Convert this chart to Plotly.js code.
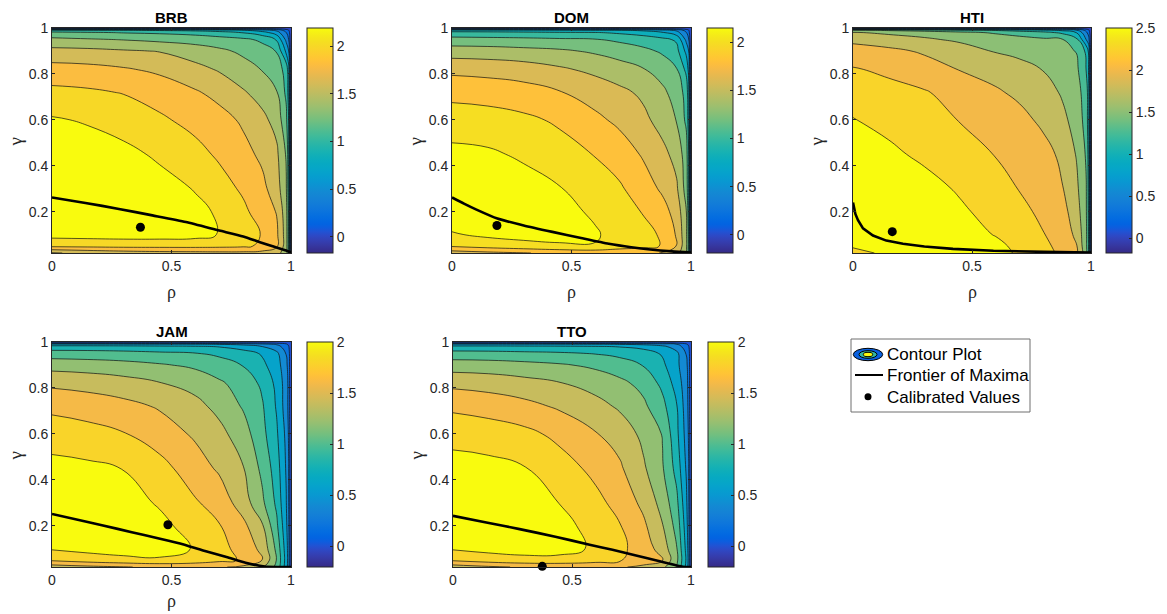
<!DOCTYPE html>
<html><head><meta charset="utf-8">
<script src="https://cdn.plot.ly/plotly-3.0.1.min.js"></script>
<style>html,body{margin:0;padding:0;background:#fff}</style>
</head><body><div id="chart" style="width:1167px;height:614px"></div>
<script>
// ---------- DATA ----------
const RHO = [0, 0.15, 0.3, 0.45, 0.6, 0.7, 0.8, 0.88, 0.94, 0.98, 0.99, 1];
const GAMMA = [0.02, 0.05, 0.1, 0.2, 0.3, 0.45, 0.6, 0.72, 0.82, 0.9, 0.95, 0.98, 0.99, 1];

const Z_BRB = [
  [1.38, 1.45, 1.50, 1.53, 1.54, 1.55, 1.55, 1.53, 1.47, 1.30, 1.00, -0.17],
  [1.84, 1.85, 1.86, 1.86, 1.86, 1.85, 1.83, 1.77, 1.63, 1.30, 0.95, -0.17],
  [2.07, 2.08, 2.09, 2.09, 2.07, 1.99, 1.88, 1.79, 1.64, 1.30, 0.95, -0.17],
  [2.19, 2.18, 2.15, 2.10, 2.04, 1.98, 1.84, 1.71, 1.59, 1.28, 0.95, -0.17],
  [2.17, 2.16, 2.13, 2.07, 1.99, 1.88, 1.77, 1.65, 1.50, 1.22, 0.90, -0.17],
  [2.12, 2.10, 2.05, 1.97, 1.86, 1.77, 1.66, 1.56, 1.44, 1.18, 0.88, -0.17],
  [2.02, 1.98, 1.92, 1.83, 1.74, 1.67, 1.57, 1.45, 1.33, 1.05, 0.80, -0.17],
  [1.85, 1.83, 1.79, 1.72, 1.62, 1.54, 1.42, 1.32, 1.21, 0.96, 0.72, -0.17],
  [1.68, 1.66, 1.62, 1.56, 1.46, 1.38, 1.28, 1.19, 1.10, 0.93, 0.68, -0.17],
  [1.46, 1.45, 1.42, 1.39, 1.30, 1.24, 1.16, 1.08, 0.99, 0.55, 0.40, -0.17],
  [1.25, 1.22, 1.19, 1.15, 1.12, 1.08, 1.04, 0.96, 0.78, 0.35, 0.20, -0.17],
  [1.05, 1.02, 0.99, 0.97, 0.93, 0.88, 0.79, 0.68, 0.50, 0.20, 0.10, -0.17],
  [0.85, 0.83, 0.81, 0.78, 0.75, 0.70, 0.62, 0.50, 0.35, 0.10, 0.01, -0.17],
  [-0.17, -0.17, -0.17, -0.17, -0.17, -0.17, -0.17, -0.17, -0.17, -0.17, -0.17, -0.17]
];
const Z_DOM = [
  [1.50, 1.55, 1.59, 1.64, 1.66, 1.66, 1.65, 1.59, 1.48, 1.22, 0.92, -0.19],
  [1.82, 1.88, 1.93, 1.97, 1.99, 1.90, 1.85, 1.79, 1.59, 1.25, 0.95, -0.19],
  [1.98, 2.04, 2.07, 2.07, 2.02, 1.93, 1.85, 1.78, 1.58, 1.25, 0.95, -0.19],
  [2.14, 2.15, 2.12, 2.06, 1.97, 1.88, 1.79, 1.67, 1.53, 1.21, 0.90, -0.19],
  [2.13, 2.12, 2.08, 2.01, 1.91, 1.83, 1.69, 1.57, 1.43, 1.12, 0.85, -0.19],
  [2.05, 2.03, 1.97, 1.88, 1.79, 1.70, 1.58, 1.46, 1.33, 1.10, 0.82, -0.19],
  [1.90, 1.88, 1.84, 1.77, 1.64, 1.56, 1.45, 1.32, 1.19, 0.96, 0.72, -0.19],
  [1.74, 1.72, 1.68, 1.61, 1.52, 1.45, 1.36, 1.24, 1.12, 0.93, 0.68, -0.19],
  [1.55, 1.53, 1.50, 1.43, 1.35, 1.28, 1.21, 1.12, 1.01, 0.75, 0.55, -0.19],
  [1.30, 1.29, 1.26, 1.23, 1.17, 1.12, 1.05, 0.97, 0.86, 0.55, 0.40, -0.19],
  [1.07, 1.06, 1.05, 1.03, 1.01, 0.96, 0.90, 0.85, 0.77, 0.35, 0.22, -0.19],
  [0.87, 0.86, 0.84, 0.82, 0.81, 0.77, 0.72, 0.62, 0.48, 0.21, 0.08, -0.19],
  [0.68, 0.67, 0.66, 0.64, 0.62, 0.61, 0.56, 0.48, 0.36, 0.12, 0.02, -0.19],
  [-0.19, -0.19, -0.19, -0.19, -0.19, -0.19, -0.19, -0.19, -0.19, -0.19, -0.19, -0.19]
];
const Z_HTI = [
  [2.10, 2.35, 2.42, 2.40, 2.32, 2.22, 2.08, 1.95, 1.80, 1.35, 0.98, -0.175],
  [2.30, 2.43, 2.46, 2.40, 2.30, 2.20, 2.06, 1.92, 1.76, 1.30, 0.98, -0.175],
  [2.49, 2.48, 2.42, 2.34, 2.24, 2.14, 2.01, 1.88, 1.70, 1.30, 0.97, -0.175],
  [2.495, 2.45, 2.37, 2.29, 2.16, 2.06, 1.95, 1.83, 1.62, 1.27, 0.95, -0.175],
  [2.45, 2.42, 2.34, 2.22, 2.10, 1.99, 1.88, 1.76, 1.55, 1.26, 0.93, -0.175],
  [2.40, 2.30, 2.20, 2.10, 1.99, 1.92, 1.83, 1.70, 1.48, 1.22, 0.90, -0.175],
  [2.26, 2.18, 2.10, 1.99, 1.90, 1.82, 1.70, 1.56, 1.40, 1.15, 0.85, -0.175],
  [2.14, 2.08, 2.02, 1.90, 1.78, 1.70, 1.61, 1.47, 1.33, 1.15, 0.85, -0.175],
  [2.02, 1.95, 1.85, 1.74, 1.66, 1.59, 1.49, 1.41, 1.30, 0.99, 0.74, -0.175],
  [1.85, 1.80, 1.72, 1.63, 1.48, 1.43, 1.37, 1.30, 1.24, 0.95, 0.70, -0.175],
  [1.69, 1.63, 1.54, 1.45, 1.39, 1.34, 1.29, 1.26, 1.05, 0.49, 0.35, -0.175],
  [1.52, 1.45, 1.40, 1.31, 1.22, 1.15, 1.07, 0.95, 0.74, 0.30, 0.15, -0.175],
  [1.30, 1.22, 1.15, 1.06, 0.98, 0.90, 0.82, 0.70, 0.52, 0.18, 0.05, -0.175],
  [-0.175, -0.175, -0.175, -0.175, -0.175, -0.175, -0.175, -0.175, -0.175, -0.175, -0.175, -0.175]
];
const Z_JAM = [
  [1.30, 1.35, 1.39, 1.43, 1.44, 1.42, 1.36, 1.22, 0.95, 0.50, 0.30, -0.20],
  [1.63, 1.70, 1.75, 1.78, 1.72, 1.65, 1.58, 1.41, 0.99, 0.52, 0.30, -0.20],
  [1.82, 1.86, 1.88, 1.86, 1.79, 1.67, 1.52, 1.35, 0.95, 0.50, 0.30, -0.20],
  [2.00, 1.96, 1.93, 1.85, 1.72, 1.61, 1.45, 1.22, 0.84, 0.45, 0.25, -0.20],
  [1.93, 1.92, 1.88, 1.78, 1.62, 1.52, 1.30, 1.04, 0.76, 0.41, 0.22, -0.20],
  [1.86, 1.84, 1.795, 1.67, 1.49, 1.37, 1.21, 0.95, 0.70, 0.38, 0.21, -0.20],
  [1.71, 1.67, 1.61, 1.50, 1.37, 1.26, 1.09, 0.86, 0.63, 0.35, 0.18, -0.20],
  [1.55, 1.51, 1.46, 1.38, 1.26, 1.14, 0.98, 0.82, 0.58, 0.30, 0.15, -0.20],
  [1.36, 1.33, 1.28, 1.21, 1.13, 1.03, 0.92, 0.76, 0.55, 0.30, 0.15, -0.20],
  [1.12, 1.10, 1.07, 1.02, 0.96, 0.89, 0.79, 0.64, 0.50, 0.25, 0.12, -0.20],
  [0.90, 0.89, 0.87, 0.84, 0.81, 0.76, 0.68, 0.58, 0.45, 0.19, 0.10, -0.20],
  [0.68, 0.68, 0.67, 0.65, 0.63, 0.59, 0.52, 0.40, 0.28, 0.10, 0.02, -0.20],
  [0.45, 0.45, 0.44, 0.43, 0.42, 0.39, 0.35, 0.27, 0.18, 0.05, -0.05, -0.20],
  [-0.20, -0.20, -0.20, -0.20, -0.20, -0.20, -0.20, -0.20, -0.20, -0.20, -0.20, -0.20]
];
const Z_TTO = [
  [1.30, 1.37, 1.42, 1.44, 1.44, 1.42, 1.36, 1.25, 0.99, 0.55, 0.32, -0.20],
  [1.63, 1.70, 1.74, 1.74, 1.68, 1.62, 1.50, 1.41, 1.05, 0.58, 0.34, -0.20],
  [1.82, 1.86, 1.88, 1.87, 1.77, 1.65, 1.50, 1.32, 1.01, 0.55, 0.32, -0.20],
  [1.99, 1.97, 1.93, 1.86, 1.73, 1.61, 1.44, 1.21, 0.93, 0.50, 0.28, -0.20],
  [1.95, 1.93, 1.88, 1.795, 1.65, 1.54, 1.35, 1.13, 0.85, 0.45, 0.25, -0.20],
  [1.88, 1.86, 1.81, 1.68, 1.55, 1.43, 1.23, 1.02, 0.73, 0.38, 0.21, -0.20],
  [1.73, 1.70, 1.65, 1.55, 1.41, 1.32, 1.15, 0.99, 0.65, 0.33, 0.18, -0.20],
  [1.56, 1.52, 1.46, 1.37, 1.27, 1.17, 1.04, 0.86, 0.61, 0.30, 0.15, -0.20],
  [1.35, 1.32, 1.27, 1.21, 1.12, 1.05, 0.94, 0.75, 0.52, 0.28, 0.14, -0.20],
  [1.10, 1.09, 1.06, 1.02, 0.96, 0.89, 0.79, 0.64, 0.45, 0.25, 0.12, -0.20],
  [0.88, 0.87, 0.85, 0.83, 0.79, 0.75, 0.68, 0.58, 0.45, 0.19, 0.10, -0.20],
  [0.66, 0.66, 0.65, 0.64, 0.62, 0.59, 0.55, 0.45, 0.30, 0.10, 0.02, -0.20],
  [0.44, 0.44, 0.43, 0.42, 0.41, 0.39, 0.36, 0.30, 0.21, 0.05, -0.05, -0.20],
  [-0.20, -0.20, -0.20, -0.20, -0.20, -0.20, -0.20, -0.20, -0.20, -0.20, -0.20, -0.20]
];

// Frontier of maxima
const FR_BRB_RHO = [0, 0.14, 0.28, 0.42, 0.56, 0.70, 0.80, 0.87, 0.93, 0.98, 1.0];
const FR_BRB_GAM = [0.262, 0.238, 0.212, 0.184, 0.155, 0.118, 0.092, 0.067, 0.047, 0.031, 0.022];
const FR_DOM_RHO = [0, 0.05, 0.1, 0.19, 0.3, 0.42, 0.54, 0.656, 0.75, 0.83, 0.92, 1.0];
const FR_DOM_GAM = [0.262, 0.235, 0.21, 0.17, 0.14, 0.112, 0.085, 0.06, 0.045, 0.035, 0.027, 0.022];
const FR_HTI_RHO = [0, 0.004, 0.01, 0.021, 0.042, 0.084, 0.14, 0.21, 0.3, 0.42, 0.59, 0.8, 1.0];
const FR_HTI_GAM = [0.24, 0.215, 0.19, 0.163, 0.127, 0.096, 0.074, 0.06, 0.048, 0.038, 0.03, 0.025, 0.022];
const FR_JAM_RHO = [0, 0.14, 0.279, 0.39, 0.488, 0.57, 0.64, 0.73, 0.81, 0.89, 0.95, 1.0];
const FR_JAM_GAM = [0.251, 0.218, 0.185, 0.158, 0.134, 0.112, 0.09, 0.064, 0.039, 0.022, 0.02, 0.02];
const FR_TTO_RHO = [0, 0.14, 0.28, 0.43, 0.574, 0.67, 0.756, 0.86, 0.966, 1.0];
const FR_TTO_GAM = [0.243, 0.214, 0.185, 0.152, 0.117, 0.095, 0.073, 0.047, 0.021, 0.02];

// Calibrated values (BRB, DOM, HTI, JAM, TTO)
const CAL_RHO = [0.37, 0.188, 0.165, 0.485, 0.375];
const CAL_GAM = [0.132, 0.14, 0.113, 0.204, 0.023];

const COUNTRIES = ['BRB', 'DOM', 'HTI', 'JAM', 'TTO'];
const X_TICKS = [0, 0.5, 1];
const X_TICK_TEXT = ['0', '0.5', '1'];
const Y_TICKS = [0.2, 0.4, 0.6, 0.8, 1];
const Y_TICK_TEXT = ['0.2', '0.4', '0.6', '0.8', '1'];
const LEGEND_LABELS = ['Contour Plot', 'Frontier of Maxima', 'Calibrated Values'];

// ---------- STYLE ----------
const PARULA = [[0.2081,0.1663,0.5292],[0.2116,0.1898,0.5777],[0.2123,0.2138,0.6270],[0.2081,0.2386,0.6771],[0.1959,0.2645,0.7279],[0.1707,0.2919,0.7792],[0.1253,0.3242,0.8303],[0.0591,0.3598,0.8683],[0.0117,0.3875,0.8820],[0.0060,0.4086,0.8828],[0.0165,0.4266,0.8786],[0.0329,0.4430,0.8720],[0.0498,0.4586,0.8641],[0.0629,0.4737,0.8554],[0.0723,0.4887,0.8467],[0.0779,0.5040,0.8384],[0.0793,0.5200,0.8312],[0.0749,0.5375,0.8263],[0.0641,0.5570,0.8240],[0.0488,0.5772,0.8228],[0.0343,0.5966,0.8199],[0.0265,0.6137,0.8135],[0.0239,0.6287,0.8038],[0.0231,0.6418,0.7913],[0.0228,0.6535,0.7768],[0.0267,0.6642,0.7607],[0.0384,0.6743,0.7436],[0.0590,0.6838,0.7254],[0.0843,0.6928,0.7062],[0.1133,0.7015,0.6859],[0.1453,0.7098,0.6646],[0.1801,0.7177,0.6424],[0.2178,0.7250,0.6193],[0.2586,0.7317,0.5954],[0.3022,0.7376,0.5712],[0.3482,0.7424,0.5473],[0.3953,0.7459,0.5244],[0.4420,0.7481,0.5033],[0.4871,0.7491,0.4840],[0.5300,0.7491,0.4661],[0.5709,0.7485,0.4494],[0.6099,0.7473,0.4337],[0.6473,0.7456,0.4188],[0.6834,0.7435,0.4044],[0.7184,0.7411,0.3905],[0.7525,0.7384,0.3768],[0.7858,0.7356,0.3633],[0.8185,0.7327,0.3498],[0.8507,0.7299,0.3360],[0.8824,0.7274,0.3217],[0.9139,0.7258,0.3063],[0.9450,0.7261,0.2886],[0.9739,0.7314,0.2666],[0.9938,0.7455,0.2403],[0.9990,0.7653,0.2164],[0.9955,0.7861,0.1967],[0.9880,0.8066,0.1794],[0.9789,0.8271,0.1633],[0.9697,0.8481,0.1475],[0.9626,0.8705,0.1309],[0.9589,0.8949,0.1132],[0.9598,0.9218,0.0948],[0.9661,0.9514,0.0755],[0.9763,0.9831,0.0538]];
function parulaAt(p) {
  p = Math.max(0, Math.min(1, p));
  const f = p * 63, i = Math.min(62, Math.floor(f)), t = f - i;
  const a = PARULA[i], b = PARULA[i + 1];
  const c = [0,1,2].map(k => Math.round(255 * (a[k] + (b[k] - a[k]) * t)));
  return 'rgb(' + c.join(',') + ')';
}
const PARULA_SCALE = PARULA.map((c, i) => [i / 63, 'rgb(' + c.map(v => Math.round(v * 255)).join(',') + ')']);
// MATLAB-like band colours: each band takes the colour of its upper level
function bandScale(start, end, size, zmin, zmax) {
  const n = Math.round((end - start) / size) + 2;
  const s = [];
  for (let i = 0; i < n; i++) {
    const U = start + size * i;
    s.push([i / (n - 1), parulaAt((U - zmin) / (zmax - zmin))]);
  }
  return s;
}

const W = 1167, H = 614;
const px = x => x / W, py = y => 1 - y / H;
const FONT = 'Liberation Sans, Arial, sans-serif';
const SERIF = 'Liberation Serif, DejaVu Serif, serif';
const INK = '#262626';

const PANELS = [
  {z: Z_BRB, fr: [FR_BRB_RHO, FR_BRB_GAM], lv: [0, 2.0, 0.2], box: [52, 28, 291, 253], cb: 307, rho: true, spline: true, cmax: null},
  {z: Z_DOM, fr: [FR_DOM_RHO, FR_DOM_GAM], lv: [0, 2.0, 0.2], box: [452, 28, 691, 253], cb: 707, rho: true, spline: true, cmax: null},
  {z: Z_HTI, fr: [FR_HTI_RHO, FR_HTI_GAM], lv: [0, 2.5, 0.25], box: [853, 28, 1091, 253], cb: 1106, rho: true, spline: false, cmax: 2.5},
  {z: Z_JAM, fr: [FR_JAM_RHO, FR_JAM_GAM], lv: [0, 1.8, 0.2], box: [52, 342, 291, 567], cb: 307, rho: true, spline: true, cmax: null},
  {z: Z_TTO, fr: [FR_TTO_RHO, FR_TTO_GAM], lv: [0, 1.8, 0.2], box: [453, 342, 691, 567], cb: 708, rho: false, spline: true, cmax: 2.0}
];

const traces = [];
const layout = {
  width: W, height: H, margin: {l: 0, r: 0, t: 0, b: 0},
  paper_bgcolor: '#fff', plot_bgcolor: '#fff', showlegend: false,
  font: {family: FONT, color: INK},
  annotations: [], shapes: []
};

PANELS.forEach((P, i) => {
  const k = i + 1, sfx = k === 1 ? '' : String(k);
  const [x0, y0, x1, y1] = P.box;
  const flat = P.z.flat();
  const zmin = Math.min(...flat);
  const zmax = P.cmax !== null ? P.cmax : Math.max(...flat);
  traces.push({
    type: 'contour', x: RHO, y: GAMMA, z: P.z, xaxis: 'x' + sfx, yaxis: 'y' + sfx,
    autocontour: false,
    contours: {start: P.lv[0], end: P.lv[1], size: P.lv[2], coloring: 'fill', showlines: true},
    line: {color: '#111', width: 0.7, smoothing: 1.3},
    colorscale: bandScale(P.lv[0], P.lv[1], P.lv[2], zmin, zmax),
    showscale: false, hoverinfo: 'skip'
  });
  traces.push({
    type: 'scatter', mode: 'lines', x: P.fr[0], y: P.fr[1], xaxis: 'x' + sfx, yaxis: 'y' + sfx,
    line: P.spline ? {color: '#000', width: 2.6, shape: 'spline', smoothing: 0.6} : {color: '#000', width: 2.6},
    hoverinfo: 'skip'
  });
  traces.push({
    type: 'scatter', mode: 'markers', x: [CAL_RHO[i]], y: [CAL_GAM[i]], xaxis: 'x' + sfx, yaxis: 'y' + sfx,
    marker: {color: '#000', size: 9}, cliponaxis: false, hoverinfo: 'skip'
  });
  // continuous colour bar
  traces.push({
    type: 'scatter', mode: 'markers', x: [0.5], y: [0.5], xaxis: 'x' + sfx, yaxis: 'y' + sfx,
    hoverinfo: 'skip',
    marker: {
      size: 1, opacity: 0, color: [zmin], cmin: zmin, cmax: zmax, colorscale: PARULA_SCALE,
      showscale: true,
      colorbar: {
        x: px(P.cb), xanchor: 'left', xpad: 0, y: py(y0), yanchor: 'top', ypad: 0,
        len: y1 - y0, lenmode: 'pixels', thickness: 26, thicknessmode: 'pixels',
        outlinewidth: 1, outlinecolor: INK, borderwidth: 0,
        tickmode: 'linear', tick0: 0, dtick: 0.5, ticks: 'inside', ticklen: 3, tickcolor: INK,
        tickfont: {family: FONT, size: 14, color: INK}
      }
    }
  });
  layout['xaxis' + sfx] = {
    domain: [px(x0), px(x1)], range: [0, 1], anchor: 'y' + sfx,
    tickmode: 'array', tickvals: X_TICKS, ticktext: X_TICK_TEXT,
    ticks: 'inside', ticklen: 3, tickcolor: INK, showline: true, linecolor: INK, linewidth: 1,
    mirror: 'ticks', showgrid: false, zeroline: false, fixedrange: true,
    tickfont: {family: FONT, size: 14, color: INK}
  };
  layout['yaxis' + sfx] = {
    domain: [py(y1), py(y0)], range: [0.02, 1], anchor: 'x' + sfx,
    tickmode: 'array', tickvals: Y_TICKS, ticktext: Y_TICK_TEXT,
    ticks: 'inside', ticklen: 3, tickcolor: INK, showline: true, linecolor: INK, linewidth: 1,
    mirror: 'ticks', showgrid: false, zeroline: false, fixedrange: true,
    tickfont: {family: FONT, size: 14, color: INK}
  };
  layout.annotations.push({
    text: '<b>' + COUNTRIES[i] + '</b>', xref: 'paper', yref: 'paper',
    x: px((x0 + x1) / 2), y: py(y0 - 11), xanchor: 'center', yanchor: 'middle',
    showarrow: false, font: {family: FONT, size: 15, color: '#000'}
  });
  if (P.rho) layout.annotations.push({
    text: 'ρ', xref: 'paper', yref: 'paper', x: px((x0 + x1) / 2), y: py(Math.min(y1 + 39, 601)),
    xanchor: 'center', yanchor: 'middle', showarrow: false,
    font: {family: SERIF, size: 18, color: INK}
  });
  layout.annotations.push({
    text: 'γ', xref: 'paper', yref: 'paper', x: px(x0 - 37), y: py((y0 + y1) / 2 + 2),
    xanchor: 'center', yanchor: 'middle', textangle: -90, showarrow: false,
    font: {family: SERIF, size: 19, color: INK}
  });
});

// ---------- manual legend ----------
const paperShape = o => Object.assign({xref: 'paper', yref: 'paper'}, o);
layout.shapes.push(paperShape({type: 'rect', x0: px(851), x1: px(1030), y0: py(412), y1: py(339),
  line: {color: '#6e6e6e', width: 1}, fillcolor: '#fff', layer: 'above'}));
layout.shapes.push(paperShape({type: 'circle', x0: px(853.3), x1: px(882.7), y0: py(360.7), y1: py(348.3),
  fillcolor: parulaAt(0.12), line: {color: '#000', width: 1}}));
layout.shapes.push(paperShape({type: 'circle', x0: px(859), x1: px(877), y0: py(358.3), y1: py(350.7),
  fillcolor: parulaAt(0.5), line: {color: '#000', width: 1}}));
layout.shapes.push(paperShape({type: 'circle', x0: px(863.3), x1: px(872.7), y0: py(356.7), y1: py(352.3),
  fillcolor: parulaAt(1), line: {color: '#000', width: 1}}));
layout.shapes.push(paperShape({type: 'line', x0: px(855), x1: px(883), y0: py(375), y1: py(375),
  line: {color: '#000', width: 2}}));
layout.shapes.push(paperShape({type: 'circle', x0: px(864.5), x1: px(871.5), y0: py(400.2), y1: py(393.2),
  fillcolor: '#000', line: {color: '#000', width: 0}}));
[354.5, 375, 397].forEach((yy, j) => layout.annotations.push({
  text: LEGEND_LABELS[j], xref: 'paper', yref: 'paper', x: px(885), y: py(yy),
  xanchor: 'left', yanchor: 'middle', showarrow: false,
  font: {family: FONT, size: 17, color: '#000'}
}));

Plotly.newPlot('chart', traces, layout, {staticPlot: true, displayModeBar: false});
</script>
</body></html>
